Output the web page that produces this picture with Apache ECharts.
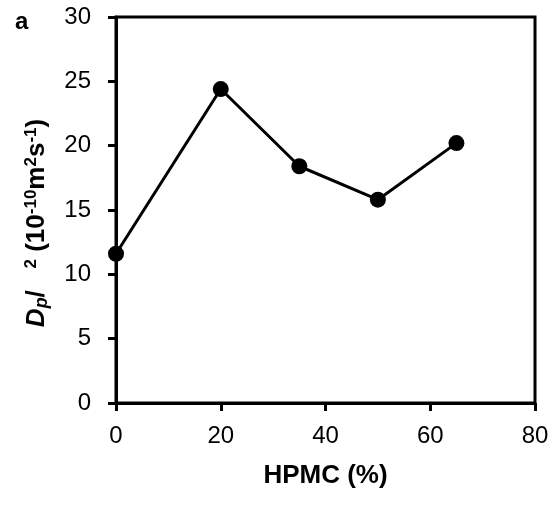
<!DOCTYPE html>
<html>
<head>
<meta charset="utf-8">
<script src="https://cdn.jsdelivr.net/npm/echarts@6/dist/echarts.min.js"></script>
<style>
  html, body { margin: 0; padding: 0; background: #fff; }
  #main { width: 557px; height: 506px; }
</style>
</head>
<body>
<div id="main"></div>
<script>
// data
var hpmc = [0, 20, 35, 50, 65];
var dp = [11.6, 24.4, 18.4, 15.8, 20.2];
var xTicks = [0, 20, 40, 60, 80];
var yTicks = [0, 5, 10, 15, 20, 25, 30];

var chart = echarts.init(document.getElementById('main'));
var font = 'Liberation Sans, Arial, sans-serif';

var option = {
  animation: false,
  backgroundColor: '#fff',
  title: {
    text: 'a',
    left: 10,
    top: 5,
    textStyle: { fontFamily: font, fontSize: 24, fontWeight: 'bold', color: '#000' }
  },
  grid: {
    left: 116,
    right: 22,
    top: 17,
    bottom: 103,
    show: true,
    borderColor: '#000',
    borderWidth: 3
  },
  xAxis: {
    type: 'value',
    min: xTicks[0],
    max: xTicks[xTicks.length - 1],
    interval: 20,
    name: 'HPMC (%)',
    nameLocation: 'middle',
    nameGap: 60,
    nameTextStyle: { fontFamily: font, fontSize: 26, fontWeight: 'bold', color: '#000' },
    axisLine: { lineStyle: { color: '#000', width: 3 } },
    axisTick: { inside: false, length: 8, lineStyle: { color: '#000', width: 3 } },
    axisLabel: { margin: 21, fontFamily: font, fontSize: 24, color: '#000' },
    splitLine: { show: false }
  },
  yAxis: {
    type: 'value',
    min: yTicks[0],
    max: yTicks[yTicks.length - 1],
    interval: 5,
    name: '{b|D}{s|p}{n|/   }{u|2}{n| (10}{u|-10}{n|m}{u|2}{n|s}{u|-1}{n|)}',
    nameLocation: 'middle',
    nameGap: 65,
    nameRotate: 90,
    nameTextStyle: {
      fontFamily: font, fontSize: 26, fontWeight: 'bold', color: '#000',
      padding: [0, 26, 0, 0],
      rich: {
        b: { fontFamily: font, fontSize: 26, fontWeight: 'bold', fontStyle: 'italic', color: '#000' },
        s: { fontFamily: font, fontSize: 18, fontWeight: 'bold', fontStyle: 'italic', color: '#000', verticalAlign: 'bottom', padding: [10, 0, 0, 0] },
        n: { fontFamily: font, fontSize: 26, fontWeight: 'bold', color: '#000' },
        u: { fontFamily: font, fontSize: 17, fontWeight: 'bold', color: '#000', verticalAlign: 'top', padding: [0, 0, 10, 0] }
      }
    },
    axisLine: { lineStyle: { color: '#000', width: 3 } },
    axisTick: { inside: false, length: 8, lineStyle: { color: '#000', width: 3 } },
    axisLabel: { margin: 25, fontFamily: font, fontSize: 24, color: '#000' },
    splitLine: { show: false }
  },
  series: [{
    type: 'line',
    data: hpmc.map(function (x, i) { return [x, dp[i]]; }),
    symbol: 'circle',
    symbolSize: 16,
    itemStyle: { color: '#000' },
    lineStyle: { color: '#000', width: 3 }
  }]
};

chart.setOption(option);
</script>
</body>
</html>
